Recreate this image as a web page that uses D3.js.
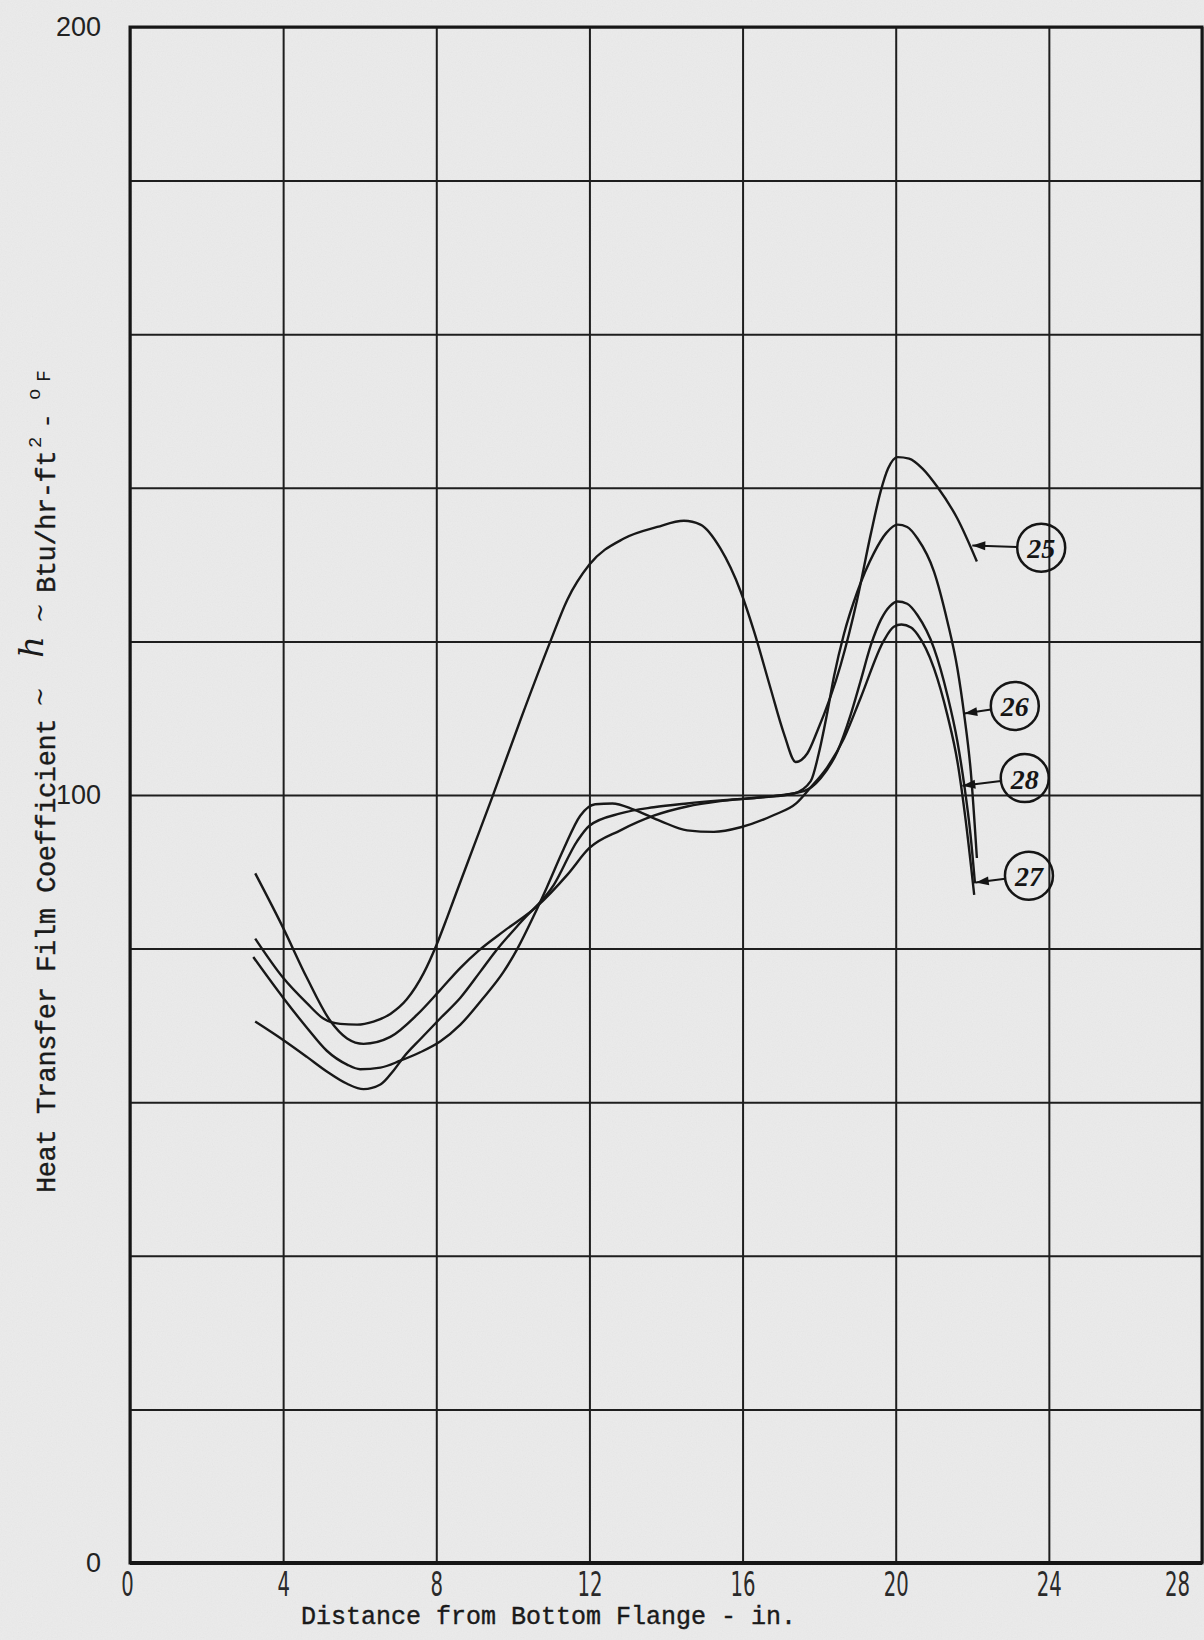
<!DOCTYPE html>
<html>
<head>
<meta charset="utf-8">
<script src="https://cdn.jsdelivr.net/npm/d3@7"></script>
<style>
    body { margin: 0; background: #ececec; }
    svg { display: block; }
</style>
</head>
<body>
<svg id="chart" width="1204" height="1640"></svg>
<script>
// ---- data (x = in. from bottom flange, h = Btu/hr-ft2-F) ----
var xTicks = [0, 4, 8, 12, 16, 20, 24, 28];
var yTicks = [0, 20, 40, 60, 80, 100, 120, 140, 160, 180, 200];
var yTickLabels = [0, 100, 200];

var run25 = [[3.27, 81.3], [4.0, 76.2], [4.62, 72.9], [5.05, 70.9], [5.49, 70.2], [5.93, 70.1],
    [6.36, 70.5], [6.8, 71.5], [7.23, 73.4], [7.67, 76.8], [8.0, 80.4], [8.28, 84.0], [8.54, 87.5],
    [9.0, 93.6], [9.46, 99.7], [10.2, 109.8], [10.98, 120.0], [11.42, 125.4], [12.0, 130.0],
    [12.9, 133.4], [13.77, 134.9], [14.47, 135.7], [14.9, 135.2], [15.42, 132.1], [15.95, 126.5],
    [16.3, 121.3], [16.73, 113.9], [17.08, 108.0], [17.39, 104.3], [17.69, 105.4], [17.95, 108.3],
    [18.56, 116.9], [19.0, 125.6], [19.35, 134.0], [19.61, 139.6], [19.8, 142.5], [20.05, 144.0],
    [20.35, 143.8], [20.7, 142.5], [21.09, 140.1], [21.61, 136.0], [22.12, 130.4]];

var run26 = [[3.27, 89.8], [4.0, 82.7], [4.62, 76.2], [5.23, 70.6], [5.67, 68.3], [6.1, 67.6],
    [6.8, 68.5], [7.5, 71.4], [8.1, 74.6], [8.63, 77.5], [9.1, 79.7], [9.8, 82.4], [10.63, 85.5],
    [11.42, 89.6], [12.0, 93.1], [12.81, 95.4], [13.68, 97.3], [14.55, 98.5], [15.42, 99.2],
    [16.5, 99.7], [17.34, 100.2], [17.78, 101.8], [17.99, 105.4], [18.2, 110.4], [18.39, 115.5],
    [18.65, 121.0], [19.0, 126.5], [19.43, 131.5], [19.75, 134.1], [20.05, 135.2], [20.3, 134.9],
    [20.57, 133.4], [21.0, 129.1], [21.35, 122.6], [21.61, 116.5], [21.79, 110.4], [21.96, 103.1],
    [22.12, 91.8]];

var run28 = [[3.27, 70.5], [4.0, 68.1], [4.62, 65.9], [5.14, 64.0], [5.67, 62.4], [6.1, 61.7],
    [6.54, 62.3], [6.88, 64.1], [7.15, 65.9], [7.6, 68.3], [8.1, 70.9], [8.63, 73.6], [9.15, 77.0],
    [9.54, 79.6], [10.2, 83.4], [11.07, 88.3], [11.68, 94.0], [12.0, 96.0], [12.81, 97.6],
    [13.68, 98.4], [14.55, 98.9], [15.42, 99.3], [16.5, 99.7], [17.6, 100.5], [18.04, 102.2],
    [18.48, 105.7], [18.82, 110.4], [19.08, 114.8], [19.35, 119.5], [19.61, 122.8], [19.85, 124.6],
    [20.05, 125.2], [20.3, 124.9], [20.57, 123.4], [21.0, 119.1], [21.35, 113.0], [21.61, 107.0],
    [21.79, 101.3], [21.95, 95.0], [22.07, 88.5]];

var run27 = [[3.22, 78.9], [4.0, 73.6], [4.62, 69.7], [5.14, 66.7], [5.67, 64.9], [6.01, 64.3],
    [6.54, 64.5], [7.06, 65.4], [7.58, 66.5], [8.1, 67.9], [8.63, 70.1], [9.2, 73.4], [9.76, 77.0],
    [10.11, 79.9], [10.54, 84.2], [10.89, 88.0], [11.33, 93.0], [11.76, 97.3], [12.15, 98.8],
    [12.6, 98.9], [13.16, 98.1], [13.86, 96.6], [14.55, 95.4], [15.25, 95.2], [15.95, 95.8],
    [16.82, 97.4], [17.4, 98.9], [17.78, 101.0], [18.21, 103.6], [18.65, 107.4], [19.08, 112.6],
    [19.7, 120.2], [19.95, 121.9], [20.15, 122.2], [20.4, 121.8], [20.57, 120.9], [21.0, 116.5],
    [21.35, 110.4], [21.61, 104.4], [21.83, 96.6], [22.05, 87.0]];

// circled run numbers and the point each leader touches (data units)
var labelRuns = ["25", "26", "28", "27"];
var labelX = [23.8, 23.11, 23.37, 23.48];
var labelH = [132.2, 111.6, 102.2, 89.5];
var leaderX = [22.0, 21.79, 21.74, 22.09];
var leaderH = [132.5, 110.6, 101.2, 88.6];

var runs = [run25, run26, run28, run27];

// ---- chart ----
var width = 1204, height = 1640;
var svg = d3.select("#chart");

var x = d3.scaleLinear().domain([0, 28]).range([130, 1202]);
var y = d3.scaleLinear().domain([0, 200]).range([1563, 27]);

// paper
var defs = svg.append("defs");
var f = defs.append("filter").attr("id", "paper").attr("x", 0).attr("y", 0)
    .attr("width", "100%").attr("height", "100%");
f.append("feTurbulence").attr("type", "fractalNoise").attr("baseFrequency", 0.8)
    .attr("numOctaves", 2).attr("seed", 7);
f.append("feColorMatrix").attr("type", "matrix")
    .attr("values", "0.33 0.33 0.33 0 0  0.33 0.33 0.33 0 0  0.33 0.33 0.33 0 0  0 0 0 0 1");

svg.append("rect").attr("width", width).attr("height", height).attr("fill", "#ededed");
svg.append("rect").attr("width", width).attr("height", height)
    .attr("filter", "url(#paper)").attr("opacity", 0.07);

// grid + tick labels
var gx = svg.append("g")
    .attr("transform", "translate(0," + y(0) + ")")
    .call(d3.axisBottom(x).tickValues(xTicks)
        .tickSize(-(y(0) - y(200))).tickPadding(9).tickFormat(d3.format("d")));
gx.select(".domain").remove();
gx.selectAll(".tick line").attr("stroke", "#1e1e1e").attr("stroke-width", 2);
gx.selectAll(".tick text")
    .attr("font-family", "'Liberation Sans Narrow', 'DejaVu Sans Condensed', sans-serif")
    .attr("font-size", 34).attr("fill", "#2a2a2a")
    .attr("textLength", function (d) { return String(d).length * 12.5; })
    .attr("lengthAdjust", "spacingAndGlyphs")
    .attr("text-anchor", "middle")
    .attr("x", function (d) { return d == 28 ? -25 : (d == 0 ? -3 : 0); });

var gy = svg.append("g")
    .attr("transform", "translate(" + x(0) + ",0)")
    .call(d3.axisLeft(y).tickValues(yTicks)
        .tickSize(-(x(28) - x(0))).tickPadding(29)
        .tickFormat(function (d) { return yTickLabels.indexOf(d) >= 0 ? d : ""; }));
gy.select(".domain").remove();
gy.selectAll(".tick line").attr("stroke", "#1e1e1e").attr("stroke-width", 2);
gy.selectAll(".tick text")
    .attr("font-family", "'Liberation Sans', Arial, sans-serif")
    .attr("font-size", 27).attr("fill", "#222");

// frame
svg.append("rect")
    .attr("x", x(0)).attr("y", y(200))
    .attr("width", x(28) - x(0)).attr("height", y(0) - y(200))
    .attr("fill", "none").attr("stroke", "#161616").attr("stroke-width", 3);
svg.append("line")
    .attr("x1", x(0)).attr("x2", x(28)).attr("y1", y(0)).attr("y2", y(0))
    .attr("stroke", "#161616").attr("stroke-width", 4);

// curves
var line = d3.line()
    .x(function (d) { return x(d[0]); })
    .y(function (d) { return y(d[1]); })
    .curve(d3.curveMonotoneX);

svg.append("g").selectAll("path")
    .data(runs)
    .enter().append("path")
    .attr("d", line)
    .attr("fill", "none")
    .attr("stroke", "#181818")
    .attr("stroke-width", 2.4)
    .attr("stroke-linejoin", "round");

// run labels
var r = 24;
var lab = svg.append("g");
labelRuns.forEach(function (name, i) {
    var cx = x(labelX[i]), cy = y(labelH[i]);
    var tx = x(leaderX[i]), ty = y(leaderH[i]);
    var dx = tx - cx, dy = ty - cy, len = Math.sqrt(dx * dx + dy * dy);
    var ux = dx / len, uy = dy / len;

    lab.append("circle").attr("cx", cx).attr("cy", cy).attr("r", r)
        .attr("fill", "none").attr("stroke", "#151515").attr("stroke-width", 2.5);
    lab.append("text").attr("x", cx).attr("y", cy + 1)
        .attr("text-anchor", "middle").attr("dominant-baseline", "central")
        .attr("font-family", "'Liberation Serif', 'DejaVu Serif', serif")
        .attr("font-style", "italic").attr("font-weight", "bold")
        .attr("font-size", 28).attr("fill", "#151515")
        .text(name);

    lab.append("line")
        .attr("x1", cx + ux * r).attr("y1", cy + uy * r)
        .attr("x2", tx).attr("y2", ty)
        .attr("stroke", "#151515").attr("stroke-width", 2);
    // arrow head
    var bx = tx - ux * 13, by = ty - uy * 13;
    lab.append("path")
        .attr("d", "M" + tx + "," + ty +
            "L" + (bx - uy * 4.5) + "," + (by + ux * 4.5) +
            "L" + (bx + uy * 4.5) + "," + (by - ux * 4.5) + "Z")
        .attr("fill", "#151515");
});

// x axis title
var mono = "'Liberation Mono', 'DejaVu Sans Mono', monospace";
svg.append("text")
    .attr("x", 301).attr("y", 1624)
    .attr("font-family", mono)
    .attr("font-size", 25).attr("fill", "#1a1a1a")
    .attr("stroke", "#1a1a1a").attr("stroke-width", 0.4)
    .text("Distance from Bottom Flange - in.");

// y axis title (reads bottom to top)
var yt = svg.append("g").attr("transform", "translate(55,0) rotate(-90)")
    .attr("fill", "#1a1a1a");
yt.append("text")
    .attr("x", -1193).attr("y", 0)
    .attr("font-family", mono).attr("font-size", 27).attr("letter-spacing", -0.4)
    .attr("stroke", "#1a1a1a").attr("stroke-width", 0.4)
    .text("Heat Transfer Film Coefficient");
yt.append("text").attr("x", -697).attr("y", -7).attr("text-anchor", "middle")
    .attr("font-family", "'DejaVu Serif', serif").attr("font-size", 24)
    .text("~");
yt.append("text").attr("x", -647).attr("y", -12).attr("text-anchor", "middle")
    .attr("font-family", "'DejaVu Serif', serif").attr("font-style", "italic")
    .attr("font-size", 34)
    .text("h");
yt.append("text").attr("x", -613).attr("y", -7).attr("text-anchor", "middle")
    .attr("font-family", "'DejaVu Serif', serif").attr("font-size", 24)
    .text("~");
yt.append("text")
    .attr("x", -593).attr("y", 0)
    .attr("font-family", mono).attr("font-size", 27).attr("letter-spacing", -0.4)
    .attr("stroke", "#1a1a1a").attr("stroke-width", 0.4)
    .text("Btu/hr-ft");
yt.append("text").attr("x", -448).attr("y", -14)
    .attr("font-family", mono).attr("font-size", 19).text("2");
yt.append("text").attr("x", -429).attr("y", 0)
    .attr("font-family", mono).attr("font-size", 27).text("-");
yt.append("text").attr("x", -400).attr("y", -15)
    .attr("font-family", mono).attr("font-size", 19).text("o");
yt.append("text").attr("x", -382).attr("y", -5)
    .attr("font-family", mono).attr("font-size", 20).text("F");
</script>
</body>
</html>
